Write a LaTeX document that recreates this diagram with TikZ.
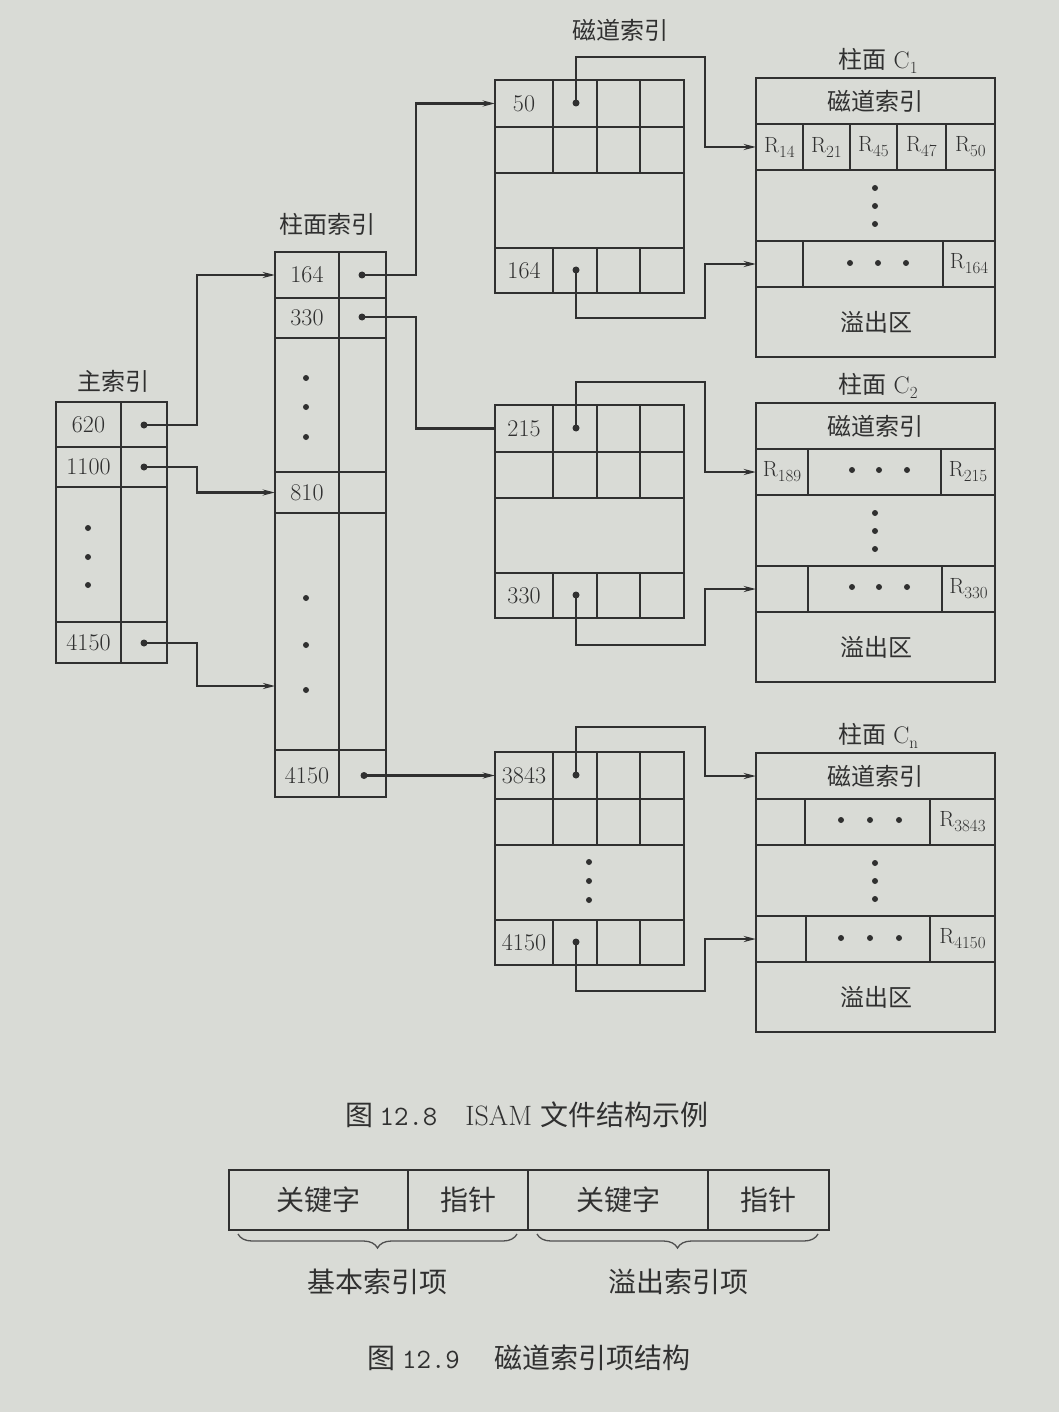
\documentclass[tikz,border=0pt]{standalone}
\usepackage{fontspec}
\newfontfamily\cjk{Noto Sans CJK SC}
\usetikzlibrary{arrows.meta,decorations.pathreplacing}

\definecolor{paper}{RGB}{217,219,214}
\definecolor{ink}{RGB}{48,48,48}

\newcommand{\rsub}[1]{R\raisebox{-5pt}{\fontsize{17}{19}\selectfont #1}}

\tikzset{
  frame/.style={draw=ink, line width=2.2pt},
  plain/.style={ink, line width=2.2pt},
  link/.style={plain, -{Stealth[length=12pt,width=6pt]}},
  ptr/.style={circle, fill=ink, inner sep=0pt, minimum size=7pt},
  num/.style={text=ink, inner sep=0pt, minimum height=40pt, font=\fontsize{24}{28}\selectfont},
  rl/.style={text=ink, inner sep=0pt, minimum height=40pt, font=\fontsize{22}{26}\selectfont},
  zh/.style={text=ink, inner sep=0pt, font=\cjk\fontsize{24}{28}\selectfont},
  zhbig/.style={text=ink, inner sep=0pt, font=\cjk\fontsize{28}{32}\selectfont},
  mkey/.style={minimum width=65pt},
  ckey/.style={minimum width=64pt},
  tkey/.style={minimum width=58pt},
  hkey/.style={minimum width=239pt, minimum height=44pt},
  brc/.style={draw=ink!85, line width=1.3pt, decorate,
    decoration={brace, mirror, amplitude=14pt}}
}

\begin{document}
\begin{tikzpicture}[x=1pt,y=-1pt]
  \fill[paper] (0,0) rectangle (1059,1412);
  \useasboundingbox (0,0) rectangle (1059,1412);

  % main index
  \node[zh] (mlbl) at (113,381) {主索引};
  \draw[frame] (56,402) rectangle (167,663);
  \draw[frame] (121,402) -- (121,663);
  \foreach \y in {447,487,622} \draw[frame] (56,\y) -- (167,\y);
  \node[num, mkey] (m620) at (88.5,424.5) {620};
  \node[num, mkey] (m1100) at (88.5,467) {1100};
  \node[num, mkey] (m4150) at (88.5,642.5) {4150};
  \foreach \y in {528,557,585} \fill[ink] (88,\y) circle (3pt);
  \node[ptr] (mp1) at (144,425) {};
  \node[ptr] (mp2) at (144,467) {};
  \node[ptr] (mp3) at (144,643) {};

  % cylinder index
  \node[zh] (clbl) at (327,224) {柱面索引};
  \draw[frame] (275,252) rectangle (386,797);
  \draw[frame] (339,252) -- (339,797);
  \foreach \y in {298,338,472,513,750} \draw[frame] (275,\y) -- (386,\y);
  \node[num, ckey] (c164) at (307,275) {164};
  \node[num, ckey] (c330) at (307,318) {330};
  \node[num, ckey] (c810) at (307,492.5) {810};
  \node[num, ckey] (c4150) at (307,775.5) {4150};
  \foreach \y in {378,407,437,598,645,690} \fill[ink] (306,\y) circle (3pt);
  \node[ptr] (cp1) at (362,275) {};
  \node[ptr] (cp2) at (362,317) {};
  \node[ptr] (cp3) at (364,775.5) {};
  \coordinate (cin) at (275,686);

  \draw[link] (mp1.center) -- (197,425) |- (c164.west);
  \draw[link] (mp2.center) -- (197,467) |- (c810.west);
  \draw[link] (mp3.center) -- (197,643) |- (cin);

  % track indexes
  \node[zh] (tlbl) at (620,30) {磁道索引};
  \foreach \ty/\ka/\kb/\g in {80/50/164/1,405/215/330/2,752/3843/4150/3} {
    \draw[frame] (495,\ty) rectangle (684,\ty+213);
    \foreach \d in {47,93,168} \draw[frame] (495,\ty+\d) -- (684,\ty+\d);
    \foreach \x in {553,597,640} {
      \draw[frame] (\x,\ty) -- (\x,\ty+93);
      \draw[frame] (\x,\ty+168) -- (\x,\ty+213);
    }
    \node[num, tkey] (ta\g) at (524,\ty+23.5) {\ka};
    \node[num, tkey] (tb\g) at (524,\ty+190.5) {\kb};
    \node[ptr] (tpa\g) at (576,\ty+23) {};
    \node[ptr] (tpb\g) at (576,\ty+190) {};
  }
  \foreach \y in {862,881,900} \fill[ink] (589,\y) circle (3pt);

  \draw[link] (cp1.center) -- (416,275) |- (ta1.west);
  \draw[plain] (cp2.center) -- (416,317) |- (ta2.west);
  \draw[link] (cp3.center) -- (ta3.west);

  % cylinders
  \foreach \cy/\sub/\g in {78/1/1,403/2/2,753/n/3} {
    \node[num, minimum height=0pt] (cl\g) at (878,\cy-17) {{\cjk 柱面}~C\raisebox{-5pt}{\fontsize{17}{19}\selectfont\sub}};
    \draw[frame] (756,\cy) rectangle (995,\cy+279);
    \foreach \d in {46,92,163,209} \draw[frame] (756,\cy+\d) -- (995,\cy+\d);
    \node[zh, hkey] (hd\g) at (875.5,\cy+23) {磁道索引};
    \node[zh] (of\g) at (876,\cy+244) {溢出区};
    \foreach \d in {110,128,146} \fill[ink] (875,\cy+\d) circle (3pt);
  }

  % C1
  \foreach \x in {803,850,897,946} \draw[frame] (\x,124) -- (\x,170);
  \node[rl, minimum width=47pt] (r14) at (779.5,147) {\rsub{14}};
  \node[rl] (r21) at (826.5,147) {\rsub{21}};
  \node[rl] (r45) at (873.5,147) {\rsub{45}};
  \node[rl] (r47) at (921.5,147) {\rsub{47}};
  \node[rl] (r50) at (970.5,147) {\rsub{50}};
  \foreach \x in {803,943} \draw[frame] (\x,241) -- (\x,287);
  \node[rl, minimum width=47pt] (cb1) at (779.5,264) {};
  \foreach \x in {850,878,906} \fill[ink] (\x,263) circle (3pt);
  \node[rl] (r164) at (969,264) {\rsub{164}};

  % C2
  \foreach \x in {808,941} \draw[frame] (\x,449) -- (\x,495);
  \node[rl, minimum width=52pt] (r189) at (782,472) {\rsub{189}};
  \foreach \x in {852,879,907} \fill[ink] (\x,470) circle (3pt);
  \node[rl] (r215) at (968,472) {\rsub{215}};
  \foreach \x in {808,942} \draw[frame] (\x,566) -- (\x,612);
  \node[rl, minimum width=52pt] (cb2) at (782,589) {};
  \foreach \x in {852,879,907} \fill[ink] (\x,587) circle (3pt);
  \node[rl] (r330) at (968.5,589) {\rsub{330}};

  % Cn
  \foreach \x in {805,930} \draw[frame] (\x,799) -- (\x,845);
  \foreach \x in {841,870,899} \fill[ink] (\x,820) circle (3pt);
  \node[rl] (r3843) at (962.5,822) {\rsub{3843}};
  \foreach \x in {806,930} \draw[frame] (\x,916) -- (\x,962);
  \node[rl, minimum width=50pt] (cb3) at (781,939) {};
  \foreach \x in {841,870,899} \fill[ink] (\x,938) circle (3pt);
  \node[rl] (r4150) at (962.5,939) {\rsub{4150}};

  \draw[link] (tpa1.center) |- (705,57) |- (r14.west);
  \draw[link] (tpb1.center) |- (705,318) |- (cb1.west);
  \draw[link] (tpa2.center) |- (705,382) |- (r189.west);
  \draw[link] (tpb2.center) |- (705,645) |- (cb2.west);
  \draw[link] (tpa3.center) |- (705,727) |- (hd3.west);
  \draw[link] (tpb3.center) |- (705,991) |- (cb3.west);

  \node[zhbig] (cap1) at (527,1115) {图\ \texttt{12.8}\quad\rmfamily ISAM\ \cjk 文件结构示例};

  % track index entry
  \draw[frame] (229,1170) rectangle (829,1230);
  \foreach \x in {408,528,708} \draw[frame] (\x,1170) -- (\x,1230);
  \node[zhbig] (f1) at (318,1200) {关键字};
  \node[zhbig] (f2) at (468,1200) {指针};
  \node[zhbig] (f3) at (618,1200) {关键字};
  \node[zhbig] (f4) at (768,1200) {指针};
  \draw[brc] (238,1234) -- (517,1234);
  \draw[brc] (537,1234) -- (818,1234);
  \node[zhbig] (b1) at (377,1282) {基本索引项};
  \node[zhbig] (b2) at (678,1282) {溢出索引项};

  \node[zhbig] (cap2) at (529,1358) {图\ \texttt{12.9}\quad\ 磁道索引项结构};
\end{tikzpicture}
\end{document}
